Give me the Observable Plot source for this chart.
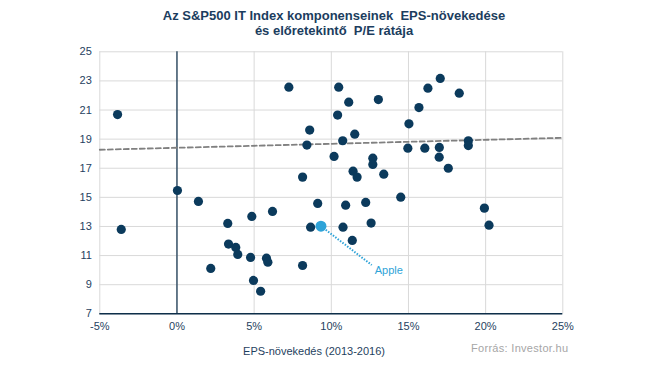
<!DOCTYPE html>
<html>
<head>
<meta charset="utf-8">
<script src="https://cdn.jsdelivr.net/npm/d3@7"></script>
<script src="https://cdn.jsdelivr.net/npm/@observablehq/plot@0.6"></script>
<style>
  html, body { margin: 0; padding: 0; background: #fff; }
  #wrap { position: relative; width: 645px; height: 382px; overflow: hidden; font-family: "Liberation Sans", sans-serif; }
  #title { position: absolute; left: 0; top: 8px; width: 668px; text-align: center; font-weight: bold; font-size: 13px; line-height: 15px; color: #1b3d5e; }
  #xlabel { position: absolute; left: 214px; width: 200px; top: 345px; text-align: center; font-size: 11px; color: #1f3f60; }
  #source { position: absolute; left: 471px; top: 342px; font-size: 11px; color: #a6a6a6; letter-spacing: 0.3px; }
  #chart { position: absolute; left: 0; top: 0; }
</style>
</head>
<body>
<div id="wrap">
  <div id="chart"></div>
  <div id="title">Az S&amp;P500 IT Index komponenseinek&nbsp; EPS-növekedése<br>és előretekintő&nbsp; P/E rátája</div>
  <div id="xlabel">EPS-növekedés (2013-2016)</div>
  <div id="source">Forrás: Investor.hu</div>
</div>
<script>
// EPS growth (%) 2013-2016 per component
const epsGrowth = [-3.85, -3.61, 0.03, 1.39, 3.29, 4.85, 3.34, 3.81, 3.94, 4.77, 2.19, 4.96, 5.42,
  7.25, 10.48, 11.13, 13.05, 10.41, 8.6, 11.52, 10.74, 8.42, 15.03, 15.68, 16.26, 17.06,
  14.96, 16.06, 17.0, 16.99, 10.18, 12.69, 12.69, 11.41, 11.67, 13.4, 8.14, 14.5, 9.12,
  10.93, 12.23, 6.19, 8.66, 10.76, 12.58, 11.36, 5.8, 5.89, 8.14, 19.92, 20.22, 18.88,
  18.88, 17.58, 18.29];
// forward P/E ratio per component
const peRatio = [20.69, 12.8, 15.47, 14.72, 13.21, 13.69, 11.79, 11.56, 11.08, 10.87, 10.12, 9.29, 8.55,
  22.57, 22.57, 21.54, 21.72, 20.65, 19.62, 19.34, 18.89, 18.59, 20.05, 21.17, 22.5, 23.17,
  18.38, 18.38, 18.43, 17.76, 17.81, 17.69, 17.26, 16.8, 16.39, 16.59, 16.39, 15.01, 14.58,
  14.46, 14.65, 14.03, 12.95, 12.95, 13.23, 12.04, 10.82, 10.55, 10.32, 14.26, 13.09, 18.89,
  18.56, 17.0, 22.16];
// highlighted company
const appleName = "Apple";
const appleEps = 9.33;
const applePE = 13.02;
const appleLabelEps = 12.62;
const appleLabelPE = 10.35;
// trend line endpoints
const trendEps = [-5, 25];
const trendPE = [18.27, 19.09];
// ticks
const xTicks = [-5, 0, 5, 10, 15, 20, 25];
const yTicks = [7, 9, 11, 13, 15, 17, 19, 21, 23, 25];

const points = epsGrowth.map((x, i) => ({x, y: peRatio[i]}));
const trend = trendEps.map((x, i) => ({x, y: trendPE[i]}));
const apple = [{x: appleEps, y: applePE, lx: appleLabelEps, ly: appleLabelPE, name: appleName}];

const navy = "#0b3a5c";
const lightBlue = "#2ea3d8";
const tickColor = "#1f3f60";

const chart = Plot.plot({
  width: 645,
  height: 382,
  marginTop: 51.3,
  marginBottom: 68.7,
  marginLeft: 99.3,
  marginRight: 82.7,
  style: {fontFamily: "Liberation Sans, sans-serif", fontSize: "11px", color: tickColor, background: "transparent"},
  x: {domain: [-5, 25]},
  y: {domain: [7, 25]},
  marks: [
    Plot.gridX(xTicks, {stroke: "#d9d9d9", strokeOpacity: 1, strokeWidth: 1}),
    Plot.gridY(yTicks, {stroke: "#d9d9d9", strokeOpacity: 1, strokeWidth: 1}),
    Plot.ruleX([0], {stroke: "#0e2f4a", strokeWidth: 1.2}),
    Plot.ruleY([7], {stroke: "#0e2f4a", strokeWidth: 1.5}),
    Plot.line(trend, {x: "x", y: "y", stroke: "#808080", strokeWidth: 1.8, strokeDasharray: "5,3"}),
    Plot.dot(points, {x: "x", y: "y", r: 4.6, fill: navy, stroke: "none"}),
    Plot.link(apple, {x1: "x", y1: "y", x2: "lx", y2: "ly", stroke: lightBlue, strokeWidth: 2, strokeDasharray: "1.5,1.5"}),
    Plot.dot(apple, {x: "x", y: "y", r: 5.5, fill: lightBlue, stroke: "none"}),
    Plot.text(apple, {x: "lx", y: "ly", text: "name", dx: 3, dy: 5, textAnchor: "start", fill: lightBlue, fontSize: 11}),
    Plot.axisX({ticks: xTicks, tickFormat: d => `${d}%`, tickSize: 0, tickPadding: 8, label: null, fill: tickColor}),
    Plot.axisY({ticks: yTicks, tickSize: 0, tickPadding: 8, label: null, fill: tickColor})
  ]
});
document.getElementById("chart").appendChild(chart);
</script>
</body>
</html>
